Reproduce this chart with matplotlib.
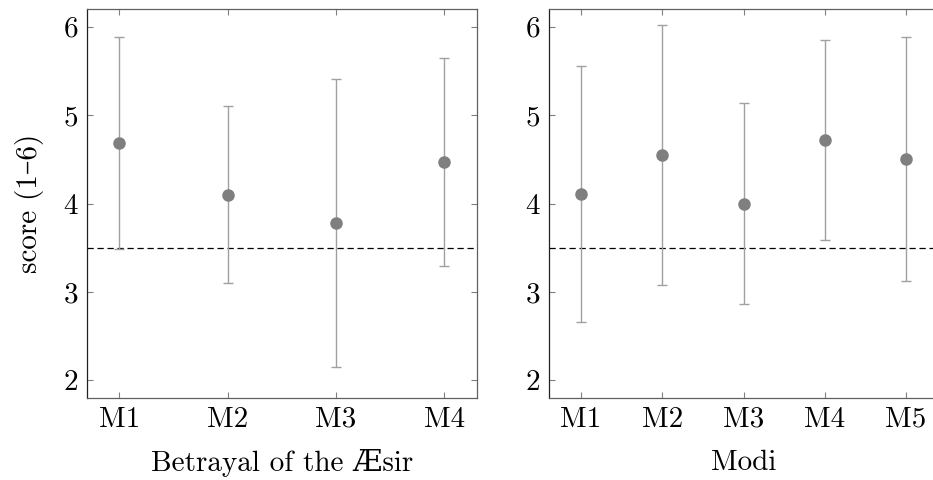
import matplotlib
matplotlib.use("Agg")
import matplotlib.pyplot as plt

plt.rcParams['font.family'] = ['cmr10', 'DejaVu Serif']
plt.rcParams['mathtext.fontset'] = 'cm'
plt.rcParams['axes.formatter.use_mathtext'] = True

left_cats = ["M1", "M2", "M3", "M4"]
left_means = [4.68, 4.10, 3.78, 4.47]
left_err = [1.20, 1.00, 1.63, 1.18]
left_title = "Betrayal of the Æsir"

right_cats = ["M1", "M2", "M3", "M4", "M5"]
right_means = [4.11, 4.55, 4.00, 4.72, 4.50]
right_err = [1.45, 1.47, 1.14, 1.13, 1.38]
right_title = "Modi"

reference = 3.5
y_ticks = [2, 3, 4, 5, 6]

fig = plt.figure(figsize=(9.33, 4.8), dpi=100)
ax1 = fig.add_axes([0.0932, 0.171, 0.418, 0.81])
ax2 = fig.add_axes([0.588, 0.171, 0.418, 0.81])

FS = 21

def draw(ax, cats, means, errs, xlabel, pad):
    xs = list(range(1, len(cats) + 1))
    ax.errorbar(xs, means, yerr=errs, fmt='o', color='#7f7f7f', ecolor='#a0a0a0',
                elinewidth=1.0, capsize=3.5, capthick=1.0, markersize=8, zorder=3)
    ax.axhline(reference, color='black', linestyle=(0, (5, 3)), linewidth=0.9, zorder=2)
    ax.set_xlim(1 - pad, len(cats) + pad)
    ax.set_ylim(1.8, 6.2)
    ax.set_xticks(xs)
    ax.set_xticklabels(cats)
    ax.set_yticks(y_ticks)
    ax.tick_params(direction='in', length=4, width=0.8, color='#808080',
                   top=True, right=True, labelsize=FS, pad=6)
    for name, s in ax.spines.items():
        s.set_color('#202020' if name == 'left' else '#606060')
        s.set_linewidth(0.9)
    ax.set_xlabel(xlabel, fontsize=FS, labelpad=12)

draw(ax1, left_cats, left_means, left_err, left_title, 0.3)
draw(ax2, right_cats, right_means, right_err, right_title, 0.4)
ax1.set_ylabel("score (1–6)", fontsize=FS, labelpad=14)

fig.savefig("out.png", dpi=100)
